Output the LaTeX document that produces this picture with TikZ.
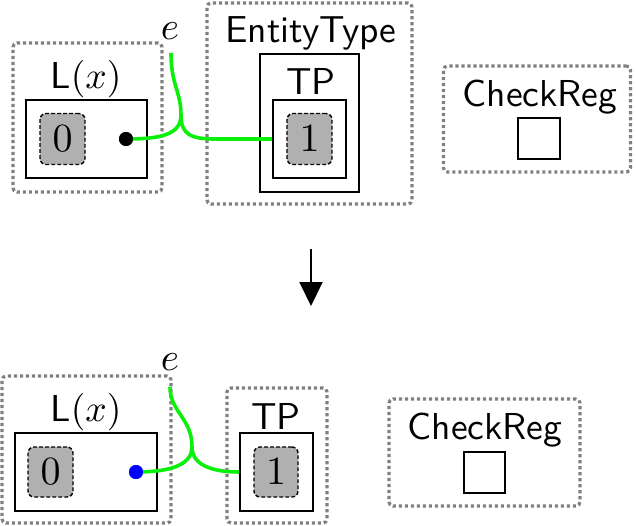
\documentclass[tikz,border=0pt]{standalone}
\usepackage{graphicx}
\usetikzlibrary{arrows.meta}
\definecolor{dotgray}{RGB}{128,128,128}
\definecolor{boxgray}{RGB}{176,176,176}
\definecolor{wiregreen}{RGB}{10,240,10}
\newcommand\sftxt[1]{\scalebox{3.75}{\sffamily #1}}
\newcommand\valtxt[1]{\scalebox{4}{$#1$}}
\tikzset{
  group/.style={draw=dotgray, line width=3.2pt, dash pattern=on 3.2pt off 2.8pt, rounded corners=4pt, inner sep=0pt},
  solidbox/.style={draw=black, line width=2pt, inner sep=0pt},
  valbox/.style={draw=black, fill=boxgray, line width=1.4pt, dash pattern=on 3.8pt off 2.2pt, rounded corners=6pt, inner sep=0pt, font=\fontsize{10}{12}\selectfont},
  lbl/.style={inner sep=0pt, font=\fontsize{10}{12}\selectfont},
  wire/.style={draw=wiregreen, line width=3.6pt},
  port/.style={circle, fill=black, inner sep=0pt, minimum size=14pt},
  bport/.style={circle, fill=blue, inner sep=0pt, minimum size=14pt},
  flow/.style={line width=2pt, -{Triangle[width=23pt,length=24pt]}}
}
\begin{document}
\begin{tikzpicture}[x=1pt,y=-1pt]
\useasboundingbox (0,0) rectangle (636,526);
% ---------- top ----------
\node[group, minimum width=149pt, minimum height=149pt] (tLg) at (87.5,117.5) {};
\node[solidbox, minimum width=121pt, minimum height=78pt] (tLb) at (86.5,139) {};
\node[valbox, minimum width=45pt, minimum height=51pt] (tv0) at (62.5,139) {\valtxt{0}};
\node[port] (tdot) at (126,139) {};
\node[lbl] (tLl) at (86,79) {\sftxt{L$(x)$}};
\node[lbl] (tel) at (170,31) {\scalebox{3.9}{$e$}};
\coordinate (tstart) at (171,53);
\coordinate (tcusp) at (181,115);
\node[group, minimum width=205pt, minimum height=201pt] (tEg) at (309.5,103.5) {};
\node[lbl] (tEl) at (311,33) {\sftxt{EntityType}};
\node[solidbox, minimum width=99pt, minimum height=138pt] (tTo) at (309.5,123) {};
\node[lbl] (tTl) at (311,81) {\sftxt{TP}};
\node[solidbox, minimum width=73pt, minimum height=78pt] (tTi) at (309.5,139) {};
\node[valbox, minimum width=45pt, minimum height=51pt] (tv1) at (309.5,139) {\valtxt{1}};
\node[group, minimum width=187pt, minimum height=106pt] (tCg) at (537,119) {};
\node[lbl] (tCl) at (540,97) {\sftxt{CheckReg}};
\node[solidbox, minimum width=42pt, minimum height=41pt] (tCs) at (539,138.5) {};
\draw[wire] (tstart) .. controls (171,85) and (181,92) .. (tcusp);
\draw[wire] (tcusp) .. controls (181,135) and (160,139) .. (tdot.center);
\draw[wire] (tcusp) .. controls (181,134) and (190,139) .. (215,139) -- (tTi.west);
\node[port] at (tdot) {};
% ---------- arrow ----------
\coordinate (atop) at (311,249);
\coordinate (abot) at (311,306);
\draw[flow] (atop) -- (abot);
% ---------- bottom ----------
\node[group, minimum width=169pt, minimum height=147pt] (bLg) at (86.5,449.5) {};
\node[solidbox, minimum width=142pt, minimum height=78pt] (bLb) at (86,472) {};
\node[valbox, minimum width=45pt, minimum height=50pt] (bv0) at (50.5,472) {\valtxt{0}};
\node[bport] (bdot) at (136,472) {};
\node[lbl] (bLl) at (86,412) {\sftxt{L$(x)$}};
\node[lbl] (bel) at (170,362) {\scalebox{3.9}{$e$}};
\coordinate (bstart) at (170,387);
\coordinate (bcusp) at (192,447);
\node[group, minimum width=100pt, minimum height=135pt] (bTg) at (277,455.5) {};
\node[lbl] (bTl) at (276,416) {\sftxt{TP}};
\node[solidbox, minimum width=73pt, minimum height=78pt] (bTb) at (276.5,472) {};
\node[valbox, minimum width=44pt, minimum height=50pt] (bv1) at (276,472) {\valtxt{1}};
\node[group, minimum width=191pt, minimum height=107pt] (bCg) at (484.5,452.5) {};
\node[lbl] (bCl) at (485,430) {\sftxt{CheckReg}};
\node[solidbox, minimum width=41pt, minimum height=41pt] (bCs) at (484.5,472.5) {};
\draw[wire] (bstart) .. controls (170,412) and (192,418) .. (bcusp);
\draw[wire] (bcusp) .. controls (192,468) and (162,472) .. (bdot.center);
\draw[wire] (bcusp) .. controls (192,465) and (212,472) .. (bTb.west);
\node[bport] at (bdot) {};
\end{tikzpicture}
\end{document}
